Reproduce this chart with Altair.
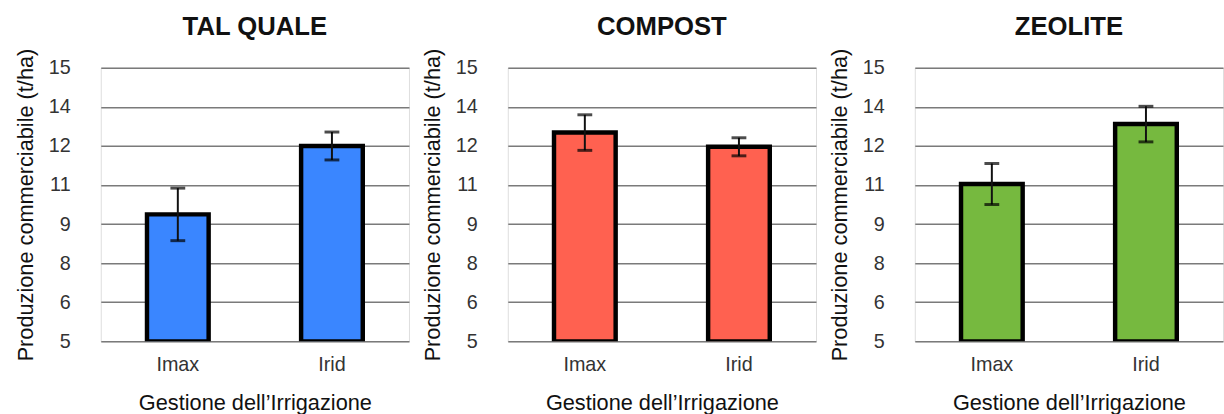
import altair as alt
import pandas as pd

panels = ["TAL QUALE", "COMPOST", "ZEOLITE"]
categories = ["Imax", "Irid"]
tal_quale_mean = [9.64, 12.14]
tal_quale_err = [0.96, 0.51]
compost_mean = [12.63, 12.11]
compost_err = [0.65, 0.33]
zeolite_mean = [10.75, 12.94]
zeolite_err = [0.75, 0.65]
colors = ["#3A86FF", "#FF6150", "#76B93F"]
y_ticks = [round(5 + k * 10 / 7, 6) for k in range(8)]

FONT = "Liberation Sans"


def panel(name, means, errs, color):
    df = pd.DataFrame({
        "cat": categories,
        "val": means,
        "lo": [m - e for m, e in zip(means, errs)],
        "hi": [m + e for m, e in zip(means, errs)],
    })
    x = alt.X("cat:N", sort=categories, title="Gestione dell\u2019Irrigazione",
              scale=alt.Scale(paddingInner=0.6, paddingOuter=0.3),
              axis=alt.Axis(labelAngle=0, domain=False, ticks=False, labelPadding=13,
                            titlePadding=19, labelFontSize=20, titleFontSize=22,
                            titleFontWeight="normal", labelColor="#333", titleColor="#111"))
    yscale = alt.Scale(domain=[5, 15], nice=False, zero=False)
    y = alt.Y("val:Q", scale=yscale, title="Produzione commerciabile (t/ha)",
              axis=alt.Axis(values=y_ticks, tickCount=20, labelOverlap=False,
                            labelExpr="format(datum.value, '.0f')",
                            domain=False, ticks=False, tickSize=0, labelPadding=31,
                            titlePadding=11, labelFontSize=20, titleFontSize=22,
                            titleFontWeight="normal", grid=True, gridColor="#7a7a7a",
                            gridWidth=1.5, labelColor="#333", titleColor="#111"))
    base = alt.Chart(df)
    bars = base.mark_bar(color=color, stroke="black", strokeWidth=4.5, clip=True).encode(
        x=x, y=y, y2=alt.datum(5))
    rule = base.mark_rule(color="#111", strokeWidth=2).encode(
        x=alt.X("cat:N", sort=categories), y=alt.Y("lo:Q", scale=yscale), y2="hi:Q")
    tick_hi = base.mark_tick(color="#000", size=15, thickness=3).encode(
        x=alt.X("cat:N", sort=categories), y=alt.Y("hi:Q", scale=yscale))
    tick_lo = base.mark_tick(color="#000", size=15, thickness=3).encode(
        x=alt.X("cat:N", sort=categories), y=alt.Y("lo:Q", scale=yscale))
    return alt.layer(bars, rule, tick_hi, tick_lo).properties(
        width=312, height=277,
        title=alt.TitleParams(name, fontSize=26, fontWeight="bold", font=FONT,
                              anchor="middle", offset=8, color="#111"))


chart = alt.hconcat(
    panel(panels[0], tal_quale_mean, tal_quale_err, colors[0]),
    panel(panels[1], compost_mean, compost_err, colors[1]),
    panel(panels[2], zeolite_mean, zeolite_err, colors[2]),
    spacing=11,
).configure_view(
    fill="#EBEBEB", stroke="#222", strokeWidth=1.5
).configure_axis(
    labelFont=FONT, titleFont=FONT
).configure(
    background="white"
).properties(
    padding={"left": 14, "top": 11, "right": 0, "bottom": 0}
)

chart.save("out.html", embed_options={"renderer": "svg", "actions": False})
